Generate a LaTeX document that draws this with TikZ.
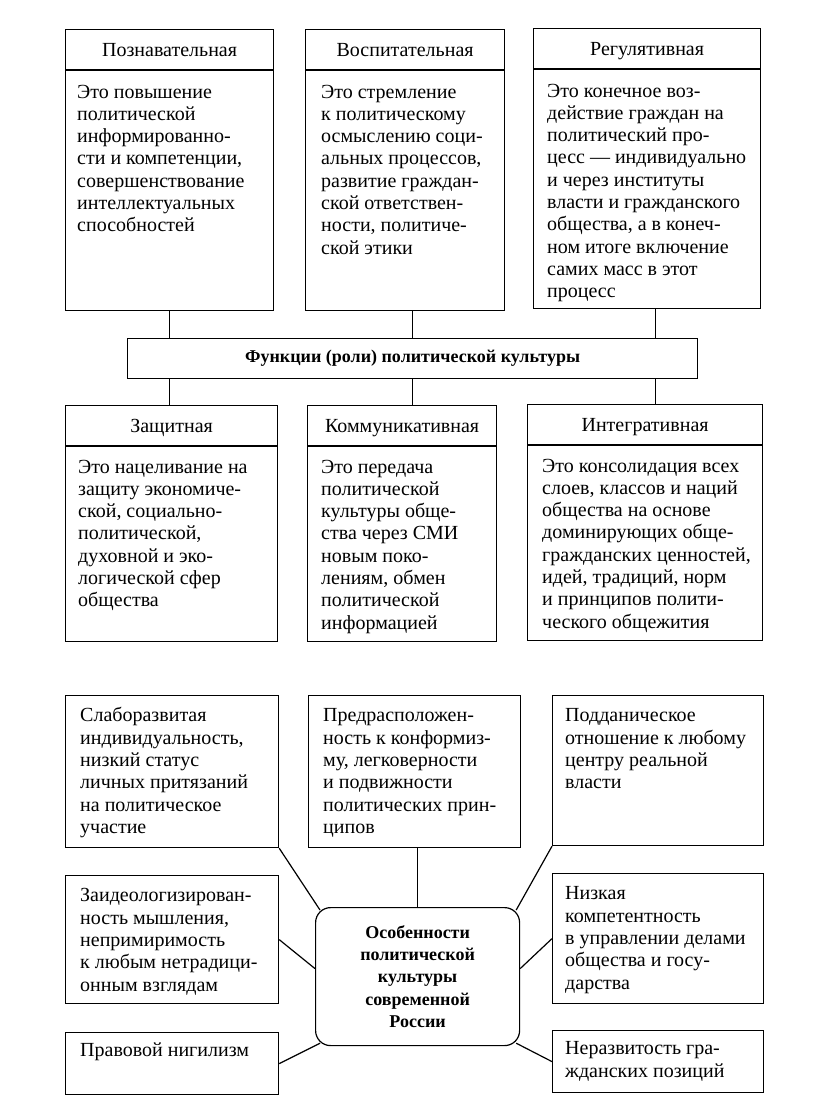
\documentclass[tikz,border=0pt]{standalone}
\usepackage{fontspec}
\setmainfont{Liberation Serif}

\tikzset{
  box/.style={draw,line width=1.2pt,inner sep=0pt,anchor=north west},
  head/.style={font=\fontsize{20}{22.3}\selectfont,text height=16pt,text depth=2pt},
  body/.style={anchor=north west,inner sep=0pt,align=left,font=\fontsize{20}{22.3}\selectfont},
  link/.style={line width=1.2pt}
}

\begin{document}
\begin{tikzpicture}[x=1pt,y=-1pt]
        \fill[white] (0,0) rectangle (816,1101);
        \useasboundingbox (0,0) rectangle (816,1101);
        % functions, upper row
        \node[box,head,minimum width=208,minimum height=40] (h1) at (65,29) {Познавательная};
        \node[box,minimum width=208,minimum height=240] (b1) at (h1.south west) {};
        \node[body] (t1) at ([shift={(12pt,-12pt)}]b1.north west) {\strut Это повышение\\политической\\информированно-\\сти и компетенции,\\совершенствование\\интеллектуальных\\способностей};
        \node[box,head,minimum width=199,minimum height=40] (h2) at (305,29) {Воспитательная};
        \node[box,minimum width=199,minimum height=240] (b2) at (h2.south west) {};
        \node[body] (t2) at ([shift={(16pt,-12pt)}]b2.north west) {\strut Это стремление\\к политическому\\осмыслению соци-\\альных процессов,\\развитие граждан-\\ской ответствен-\\ности, политиче-\\ской этики};
        \node[box,head,minimum width=227,minimum height=40] (h3) at (533,28) {Регулятивная};
        \node[box,minimum width=227,minimum height=239] (b3) at (h3.south west) {};
        \node[body] (t3) at ([shift={(14pt,-12pt)}]b3.north west) {\strut Это конечное воз-\\действие граждан на\\политический про-\\цесс — индивидуально\\и через институты\\власти и гражданского\\общества, а в конеч-\\ном итоге включение\\самих масс в этот\\процесс};
        % the bar
        \node[box,font=\fontsize{18}{22.3}\selectfont\bfseries,minimum width=570,minimum height=40] (bar) at (127,338) {Функции (роли) политической культуры};
        \coordinate (cl) at ([xshift=-243pt]bar.north);
        \coordinate (cr) at ([xshift=243pt]bar.north);
        % functions, lower row
        \node[box,head,minimum width=212,minimum height=40] (h4) at (65,405) {Защитная};
        \node[box,minimum width=212,minimum height=195] (b4) at (h4.south west) {};
        \node[body] (t4) at ([shift={(13pt,-11pt)}]b4.north west) {\strut Это нацеливание на\\защиту экономиче-\\ской, социально-\\политической,\\духовной и эко-\\логической сфер\\общества};
        \node[box,head,minimum width=189,minimum height=40] (h5) at (307,405) {Коммуникативная};
        \node[box,minimum width=189,minimum height=195] (b5) at (h5.south west) {};
        \node[body] (t5) at ([shift={(14pt,-11pt)}]b5.north west) {\strut Это передача\\политической\\культуры обще-\\ства через СМИ\\новым поко-\\лениям, обмен\\политической\\информацией};
        \node[box,head,minimum width=235,minimum height=40] (h6) at (527,404) {Интегративная};
        \node[box,minimum width=235,minimum height=195] (b6) at (h6.south west) {};
        \node[body] (t6) at ([shift={(15pt,-11pt)}]b6.north west) {\strut Это консолидация всех\\слоев, классов и наций\\общества на основе\\доминирующих обще-\\гражданских ценностей,\\идей, традиций, норм\\и принципов полити-\\ческого общежития};
        \draw[link] (cl) -- (cl |- b1.south);
        \draw[link] (bar.north) -- (bar.north |- b2.south);
        \draw[link] (cr) -- (cr |- b3.south);
        \draw[link] (bar.south -| cl) -- (cl |- h4.north);
        \draw[link] (bar.south) -- (bar.south |- h5.north);
        \draw[link] (bar.south -| cr) -- (cr |- h6.north);
        % features of political culture
        \node[box,rounded corners=15pt,font=\fontsize{18}{22.3}\selectfont\bfseries,align=center,minimum width=204,minimum height=138] (core) at (315,907) {Особенности\\политической\\культуры\\современной\\России};
        \node[box,minimum width=213,minimum height=152] (sA) at (65,695) {};
        \node[body] (tA) at ([shift={(15pt,-11pt)}]sA.north west) {\strut Слаборазвитая\\индивидуальность,\\низкий статус\\личных притязаний\\на политическое\\участие};
        \node[box,minimum width=212,minimum height=152] (sB) at (308,695) {};
        \node[body] (tB) at ([shift={(15pt,-11pt)}]sB.north west) {\strut Предрасположен-\\ность к конформиз-\\му, легковерности\\и подвижности\\политических прин-\\ципов};
        \node[box,minimum width=211,minimum height=150] (sC) at (552,695) {};
        \node[body] (tC) at ([shift={(13pt,-11pt)}]sC.north west) {\strut Подданическое\\отношение к любому\\центру реальной\\власти};
        \node[box,minimum width=213,minimum height=128] (sD) at (65,875) {};
        \node[body] (tD) at ([shift={(15pt,-11pt)}]sD.north west) {\strut Заидеологизирован-\\ность мышления,\\непримиримость\\к любым нетрадици-\\онным взглядам};
        \node[box,minimum width=213,minimum height=62] (sE) at (65,1032) {};
        \node[body] (tE) at ([shift={(15pt,-9pt)}]sE.north west) {\strut Правовой нигилизм};
        \node[box,minimum width=211,minimum height=130] (sF) at (552,873) {};
        \node[body] (tF) at ([shift={(13pt,-11pt)}]sF.north west) {\strut Низкая\\компетентность\\в управлении делами\\общества и госу-\\дарства};
        \node[box,minimum width=211,minimum height=62] (sG) at (552,1030) {};
        \node[body] (tG) at ([shift={(13pt,-9pt)}]sG.north west) {\strut Неразвитость гра-\\жданских позиций};
        \draw[link] (sA.south east) -- ([shift={(5pt,-3pt)}]core.north west);
        \draw[link] (core.north) -- (core.north |- sB.south);
        \draw[link] (sC.south west) -- ([shift={(-4pt,-3pt)}]core.north east);
        \draw[link] (sD.east) -- ([yshift=8pt]core.west);
        \draw[link] (sF.west) -- ([yshift=8pt]core.east);
        \draw[link] (sE.east) -- ([shift={(5pt,3pt)}]core.south west);
        \draw[link] (sG.west) -- ([shift={(-4pt,3pt)}]core.south east);
    \end{tikzpicture}
\end{document}
